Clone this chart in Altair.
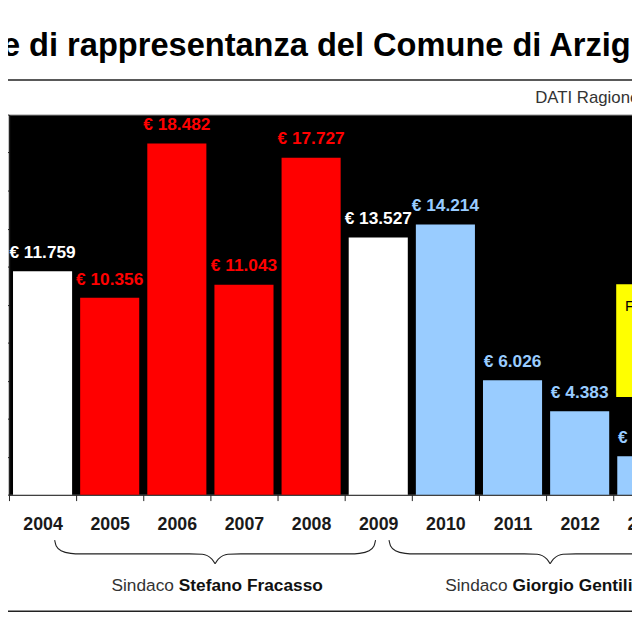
import altair as alt
import pandas as pd

# ---------------- data ----------------
years = ["2004", "2005", "2006", "2007", "2008", "2009", "2010", "2011", "2012", "2013"]
values = [11759, 10356, 18482, 11043, 17727, 13527, 14214, 6026, 4383, 2026]
bar_colors = ["#FFFFFF", "#FF0000", "#FF0000", "#FF0000", "#FF0000",
              "#FFFFFF", "#99CCFF", "#99CCFF", "#99CCFF", "#99CCFF"]
y_ticks = [0, 2000, 4000, 6000, 8000, 10000, 12000, 14000, 16000, 18000, 20000]

title_text = ["Spese di rappresentanza del Comune di Arzignano"]
source_text = ["DATI Ragioneria"]
note_text = ["F"]

mayor_prefix = ["Sindaco", "Sindaco"]
mayor_names = ["Stefano Fracasso", "Giorgio Gentilin"]
mayor_name_pos = [2.53, 7.50]          # in year-band units
brace_start = [0.68, 5.66]             # in year-band units
brace_end = [5.46, 10.46]

# normalised curly-brace outline (u along the span, v downward depth)
brace_u = [0, 0.005, 0.02, 0.05, 0.08, 0.42, 0.46, 0.49, 0.5,
           0.51, 0.54, 0.58, 0.92, 0.95, 0.98, 0.995, 1]
brace_v = [0, 0.25, 0.45, 0.56, 0.583, 0.583, 0.6, 0.8, 1.0,
           0.8, 0.6, 0.583, 0.583, 0.56, 0.45, 0.25, 0]

FONT = "Liberation Sans"

df = pd.DataFrame({
    "year": years,
    "value": values,
    "color": bar_colors,
    "label": ["€ " + f"{v:,}".replace(",", ".") for v in values],
})

rows = []
for i, (s, e) in enumerate(zip(brace_start, brace_end)):
    for u, v in zip(brace_u, brace_v):
        x = s + u * (e - s)
        if u <= 0.5:
            rows.append({"bx": x, "by": v, "grp": f"{i}L"})
        if u >= 0.5:
            rows.append({"bx": x, "by": v, "grp": f"{i}R"})
brace_df = pd.DataFrame(rows)

mayor_df = pd.DataFrame({"bx": mayor_name_pos, "pre": mayor_prefix, "name": mayor_names})

# ---------------- main bars ----------------
xscale = alt.Scale(domain=years, range=[0, 680], paddingInner=0, paddingOuter=0)
yscale = alt.Scale(domain=[0, 20000])

base = alt.Chart(df).encode(
    x=alt.X("year:N", scale=xscale, sort=years,
            axis=alt.Axis(title=None, labelAngle=0, labelFont=FONT, labelFontSize=18,
                          labelFontWeight="bold", labelColor="#1a1a1a", tickSize=6,
                          labelPadding=29, labelBaseline="alphabetic", tickBand="extent",
                          domainColor="#222222", tickColor="#222222", domainWidth=1.2,
                          grid=False)),
    y=alt.Y("value:Q", scale=yscale,
            axis=alt.Axis(title=None, labels=False, grid=False, values=y_ticks, tickSize=6,
                          domainColor="#222222", tickColor="#222222", domainWidth=1.5)),
)

bars = base.mark_bar(width=alt.RelativeBandSize(0.88)).encode(
    color=alt.Color("color:N", scale=None)
)
labels = base.mark_text(dy=-13.5, baseline="alphabetic", font=FONT, fontSize=17.5,
                        fontWeight="bold").encode(
    text="label:N", color=alt.Color("color:N", scale=None)
)
main = alt.layer(bars, labels)

# ---------------- braces & mayor labels ----------------
bx_scale = alt.Scale(domain=[0, 10], range=[0, 680])
by_scale = alt.Scale(domain=[0, 1], range=[431, 455])

braces = alt.Chart(brace_df).mark_line(interpolate="monotone", color="#222222",
                                       strokeWidth=1.1).encode(
    x=alt.X("bx:Q", scale=bx_scale, axis=None),
    y=alt.Y("by:Q", scale=by_scale, axis=None),
    detail="grp:N",
    order="bx:Q",
)
pre_txt = alt.Chart(mayor_df).mark_text(align="right", baseline="alphabetic", dx=-5,
                                        font=FONT, fontSize=17.5, color="#333333").encode(
    x=alt.X("bx:Q", scale=bx_scale, axis=None), y=alt.value(483), text="pre:N"
)
name_txt = alt.Chart(mayor_df).mark_text(align="left", baseline="alphabetic",
                                         font=FONT, fontSize=17.5, fontWeight="bold",
                                         color="#111111").encode(
    x=alt.X("bx:Q", scale=bx_scale, axis=None), y=alt.value(483), text="name:N"
)
annot = alt.layer(braces, pre_txt, name_txt)

# ---------------- header / footer decorations ----------------
title = alt.Chart(pd.DataFrame({"t": title_text})).mark_text(
    align="left", baseline="alphabetic", font=FONT, fontSize=33, fontWeight="bold",
    color="#000000").encode(text="t:N", x=alt.value(-86), y=alt.value(-59))

header_rule = alt.Chart(pd.DataFrame({"t": title_text})).mark_rule(
    color="#222222", strokeWidth=1.5).encode(
    x=alt.value(-20), x2=alt.value(700), y=alt.value(-35))

source = alt.Chart(pd.DataFrame({"t": source_text})).mark_text(
    align="left", baseline="alphabetic", font=FONT, fontSize=17, color="#333333").encode(
    text="t:N", x=alt.value(533), y=alt.value(-12))

note_box = alt.Chart(pd.DataFrame({"t": note_text})).mark_rect(color="#FFFF00").encode(
    x=alt.value(615), x2=alt.value(720), y=alt.value(172), y2=alt.value(286))
note = alt.Chart(pd.DataFrame({"t": note_text})).mark_text(
    align="left", baseline="alphabetic", font=FONT, fontSize=15, color="#000000").encode(
    text="t:N", x=alt.value(624), y=alt.value(199))

bottom_rule = alt.Chart(pd.DataFrame({"t": title_text})).mark_rule(
    color="#222222", strokeWidth=1.5).encode(
    x=alt.value(-20), x2=alt.value(700), y=alt.value(503))

chart = alt.layer(
    main, note_box, note, annot, title, header_rule, source, bottom_rule
).resolve_scale(x="independent", y="independent").properties(
    width=631, height=385,
    autosize=alt.AutoSizeParams(type="none"),
    padding={"left": 1, "top": 104, "right": 0, "bottom": 120},
    background="white",
).configure_view(fill="black", stroke="#8a8a8a", strokeWidth=1)

chart.save("out.html", embed_options={"renderer": "svg", "actions": False})
